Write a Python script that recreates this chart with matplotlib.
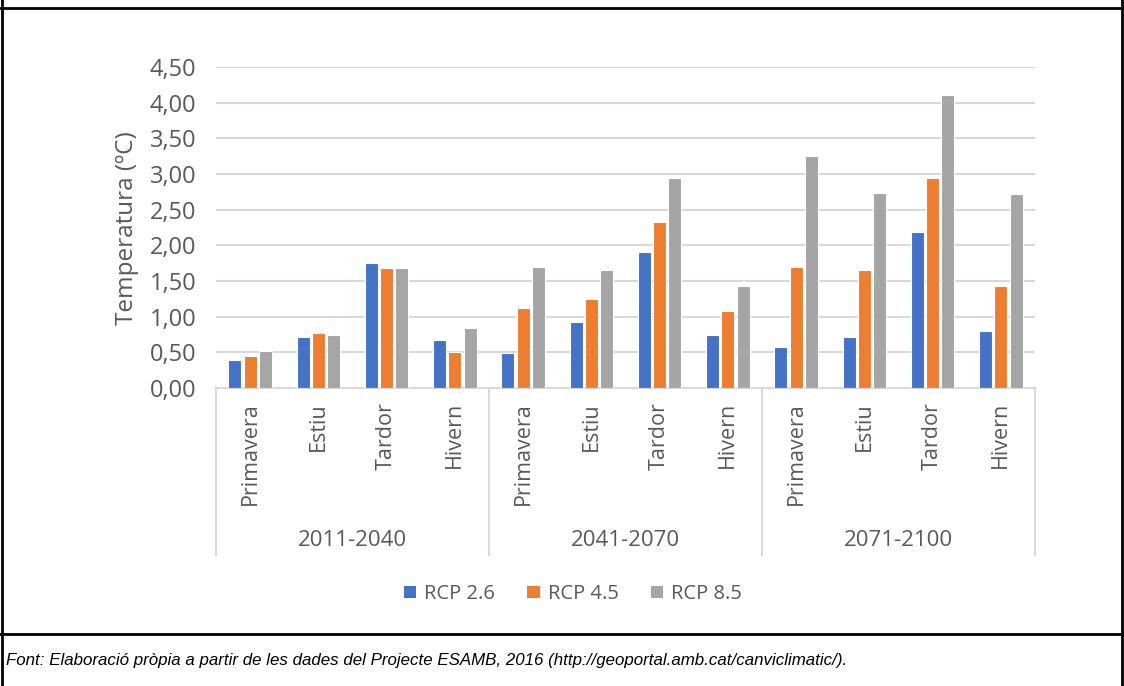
import matplotlib
matplotlib.use("Agg")
import matplotlib.pyplot as plt
from matplotlib.patches import Patch
from matplotlib.lines import Line2D
from matplotlib.ticker import FuncFormatter
import numpy as np

periods = ["2011-2040", "2041-2070", "2071-2100"]
seasons = ["Primavera", "Estiu", "Tardor", "Hivern"]
series_names = ["RCP 2.6", "RCP 4.5", "RCP 8.5"]

rcp26 = [0.39, 0.71, 1.75, 0.67,
         0.49, 0.92, 1.90, 0.75,
         0.58, 0.71, 2.18, 0.80]
rcp45 = [0.45, 0.77, 1.68, 0.51,
         1.12, 1.25, 2.33, 1.08,
         1.69, 1.65, 2.95, 1.43]
rcp85 = [0.52, 0.75, 1.68, 0.84,
         1.69, 1.65, 2.95, 1.43,
         3.25, 2.73, 4.11, 2.72]

colors = ["#4472C4", "#ED7D31", "#A5A5A5"]
txt = "#595959"
grid_c = "#D9D9D9"
font = "Open Sans"

W, H = 1124, 686
fig = plt.figure(figsize=(W / 100, H / 100), dpi=100)
ax = fig.add_axes([216 / W, 1 - 388 / H, (1035 - 216) / W, (388 - 67) / H])

x = np.arange(len(rcp26))
bw = 0.19
step = 0.225
for i, vals in enumerate([rcp26, rcp45, rcp85]):
    ax.bar(x + (i - 1) * step, vals, width=bw, color=colors[i],
           edgecolor="white", linewidth=0.8, zorder=3)

ax.set_xlim(-0.5, len(x) - 0.5)
ax.set_ylim(0, 4.5)
ax.set_yticks(np.arange(0, 4.51, 0.5))
ax.yaxis.set_major_formatter(FuncFormatter(lambda v, p: f"{v:.2f}".replace(".", ",")))
ax.grid(axis="y", color=grid_c, linewidth=1.5, zorder=0)
for s in ["top", "right", "left"]:
    ax.spines[s].set_visible(False)
ax.spines["bottom"].set_color(grid_c)
ax.spines["bottom"].set_linewidth(1.5)
ax.tick_params(axis="y", length=0, pad=14, labelsize=17, labelcolor=txt)
for t in ax.get_yticklabels():
    t.set_family(font)

ax.set_xticks(x)
ax.set_xticklabels(seasons * 3, rotation=90, fontsize=15.5, color=txt, family=font)
ax.tick_params(axis="x", length=0, pad=10)

# group separators under the axis
drop = (555 - 388) / (388 - 67)
for b in [-0.5, 3.5, 7.5, 11.5]:
    ax.add_line(Line2D([b, b], [0, -drop * 4.5], color=grid_c, linewidth=1.5,
                       clip_on=False))
for g, name in enumerate(periods):
    fig.text((216 + (g + 0.5) * (1035 - 216) / 3) / W, 1 - 541 / H, name,
             ha="center", va="center", fontsize=16, color=txt, family=font)

fig.text(127 / W, 1 - 228 / H, "Temperatura (ºC)", rotation=90, ha="center",
         va="center", fontsize=17.5, color=txt, family=font)

handles = [Patch(facecolor=c, label=n) for c, n in zip(colors, series_names)]
fig.legend(handles=handles, loc="center", bbox_to_anchor=(573 / W, 1 - 594 / H),
           ncol=3, frameon=False, handlelength=0.6, handleheight=0.6,
           handletextpad=0.4, columnspacing=1.6,
           prop={"family": font, "size": 14.5}, labelcolor=txt)

# table frame
def fl(x0, y0, x1, y1, lw=2):
    fig.add_artist(Line2D([x0 / W, x1 / W], [1 - y0 / H, 1 - y1 / H],
                          color="black", linewidth=lw))

fl(0, 8, W, 8)
fl(1.5, 0, 1.5, H)
fl(1122, 0, 1122, H)
fl(0, 634, W, 634)

fig.text(6 / W, 1 - 660 / H,
         "Font: Elaboració pròpia a partir de les dades del Projecte ESAMB, 2016 "
         "(http://geoportal.amb.cat/canviclimatic/).",
         ha="left", va="center", fontsize=12.2, style="italic",
         family=["Liberation Sans Narrow", "Liberation Sans"])

fig.savefig("out.png", dpi=100)
